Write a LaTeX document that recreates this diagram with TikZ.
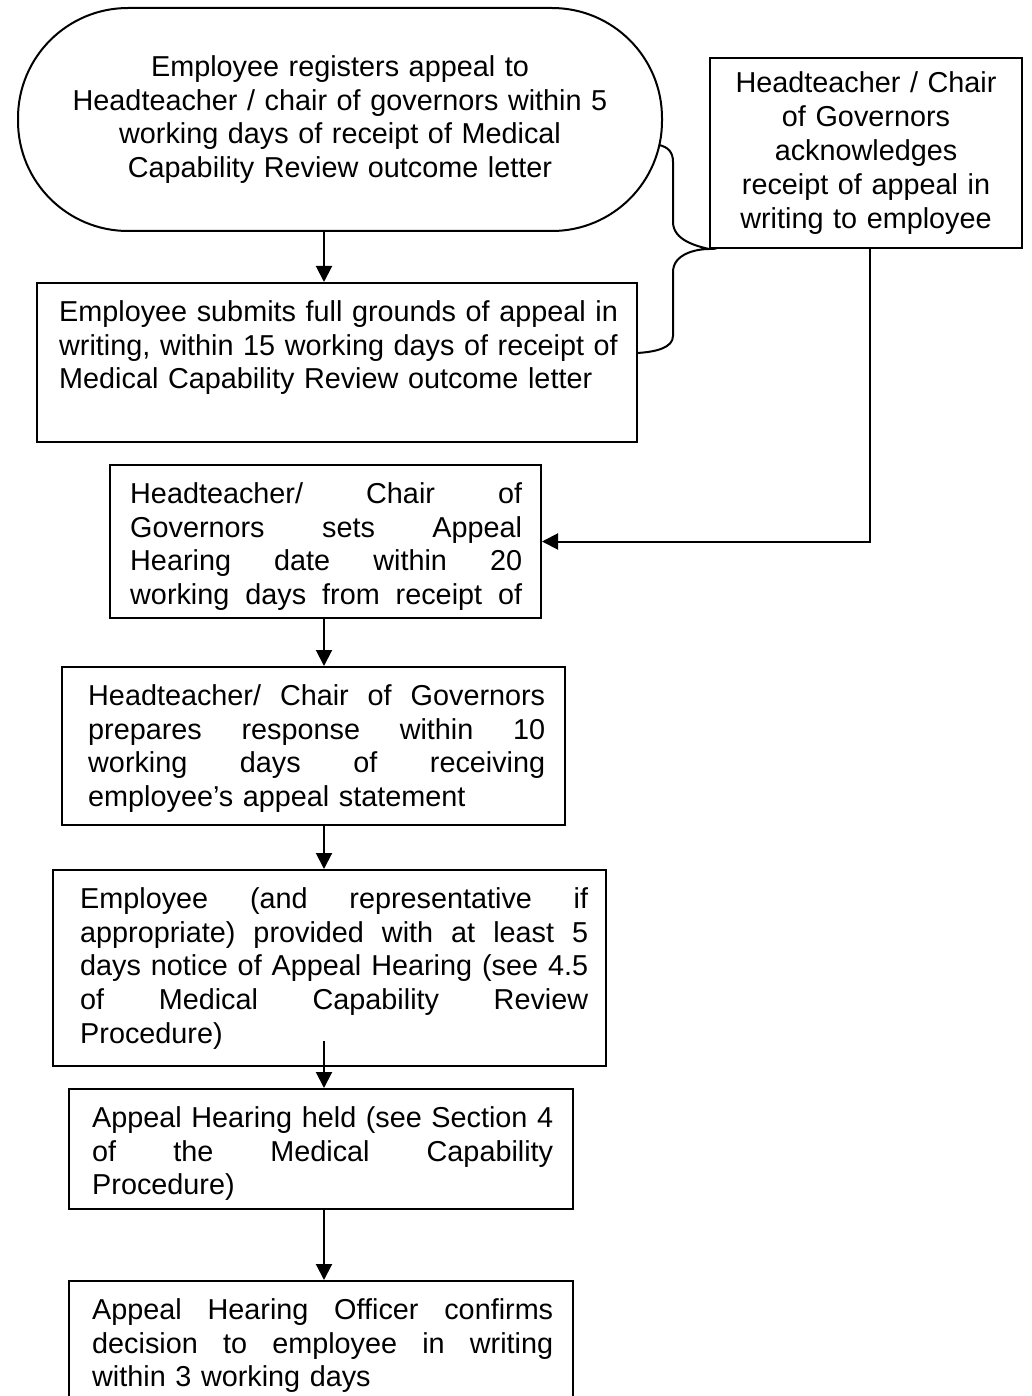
\documentclass[tikz,border=0pt]{standalone}
\usepackage{fontspec}
\setmainfont{Liberation Sans}
\usetikzlibrary{arrows.meta,calc}
\newcommand\justline[2]{\leavevmode\hbox to #1{\spaceskip=\fontdimen2\font plus 1fil\relax\xspaceskip=0pt\relax #2}}
\newcommand\firstl{\rule{0pt}{25pt}}
\tikzset{
  box/.style={draw, line width=2pt, inner sep=0pt, rectangle},
  txt/.style={inner sep=0pt, anchor=north west, align=left, font=\fontsize{28.8}{33.8}\selectfont},
  ctxt/.style={align=center, font=\fontsize{28.8}{33.8}\selectfont},
  arr/.style={line width=2pt, -{Triangle[length=16pt,width=16pt]}},
  conn/.style={line width=2pt},
}
\begin{document}
\begin{tikzpicture}[x=1pt,y=-1pt]
\useasboundingbox[fill=white] (0,0) rectangle (1032,1396);

% start terminal
\node[box, ctxt, rounded corners=110pt, minimum width=644pt, minimum height=223pt, text width=600pt] (s1) at (340,119.5)
  {Employee registers appeal to\\Headteacher / chair of governors within 5\\working days of receipt of Medical\\Capability Review outcome letter};

% acknowledgement box
\node[box, ctxt, minimum width=312pt, minimum height=190pt, text width=290pt] (b2) at (866,153)
  {Headteacher / Chair\\of Governors\\acknowledges\\receipt of appeal in\\writing to employee};

% box 3
\node[box, minimum width=600pt, minimum height=159pt] (b3) at (337,362.5) {};
\node[txt, text width=570pt] (t3) at (59,296)
  {\firstl Employee submits full grounds of appeal in\\writing, within 15 working days of receipt of\\Medical Capability Review outcome letter};

% box 4
\node[box, minimum width=431pt, minimum height=153pt] (b4) at (325.5,541.5) {};
\node[txt, text width=392pt] (t4) at (130,478)
  {\firstl\justline{392pt}{Headteacher/ Chair of}\\\justline{392pt}{Governors sets Appeal}\\\justline{392pt}{Hearing date within 20}\\\justline{392pt}{working days from receipt of}};

% box 5
\node[box, minimum width=503pt, minimum height=158pt] (b5) at (313.5,746) {};
\node[txt, text width=457pt] (t5) at (88,680)
  {\firstl\justline{457pt}{Headteacher/ Chair of Governors}\\\justline{457pt}{prepares response within 10}\\\justline{457pt}{working days of receiving}\\employee’s appeal statement};

% box 6
\node[box, minimum width=553pt, minimum height=196pt] (b6) at (329.5,968) {};
\node[txt, text width=508pt] (t6) at (80,883)
  {\firstl\justline{508pt}{Employee (and representative if}\\\justline{508pt}{appropriate) provided with at least 5}\\\justline{508pt}{days notice of Appeal Hearing (see 4.5}\\\justline{508pt}{of Medical Capability Review}\\Procedure)};

% box 7
\node[box, minimum width=504pt, minimum height=120pt] (b7) at (321,1149) {};
\node[txt, text width=461pt] (t7) at (92,1102)
  {\firstl\justline{461pt}{Appeal Hearing held (see Section 4}\\\justline{461pt}{of the Medical Capability}\\Procedure)};

% box 8 (bottom edge runs off the page)
\node[box, minimum width=504pt, minimum height=149pt] (b8) at (321,1355.5) {};
\node[txt, text width=461pt] (t8) at (92,1294)
  {\firstl\justline{461pt}{Appeal Hearing Officer confirms}\\\justline{461pt}{decision to employee in writing}\\within 3 working days};

% brace linking the two appeal steps to the acknowledgement
\coordinate (bt) at (659,145);
\coordinate (bb) at (637,353);
\draw[conn] (bt) .. controls (668,147) and (673,152) .. (673,162) -- (673,222)
  .. controls (673,240) and (696,246) .. (b2.south west)
  .. controls (696,249) and (673,254) .. (673,272) -- (673,336)
  .. controls (673,348) and (655,352) .. (bb);

% arrows
\draw[arr] (s1.south -| 324,0) -- (b3.north -| 324,0);
\draw[arr] (b2.south -| 870,0) |- (b4.east);
\draw[arr] (b4.south -| 324,0) -- (b5.north -| 324,0);
\draw[arr] (b5.south -| 324,0) -- (b6.north -| 324,0);
\draw[arr] (b6.south -| 324,0) ++(0,-26) -- (b7.north -| 324,0);
\draw[arr] (b7.south -| 324,0) -- (b8.north -| 324,0);
\end{tikzpicture}
\end{document}
